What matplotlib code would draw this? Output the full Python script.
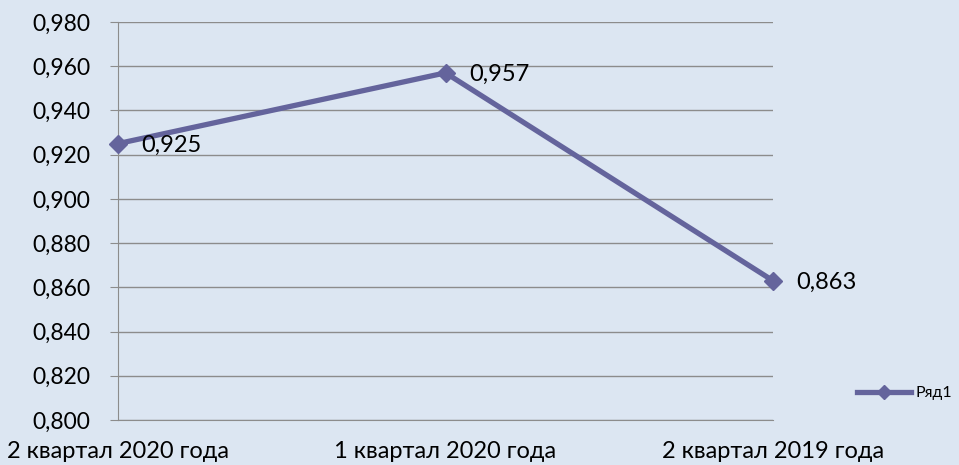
import matplotlib.pyplot as plt
from matplotlib.lines import Line2D

categories = ['2 квартал 2020 года', '1 квартал 2020 года', '2 квартал 2019 года']
values = [0.925, 0.957, 0.863]
yticks = [0.80, 0.82, 0.84, 0.86, 0.88, 0.90, 0.92, 0.94, 0.96, 0.98]

bg = '#dce6f2'
line_col = '#64649c'
grid_col = '#8c8c8c'

plt.rcParams['font.family'] = ['Lato', 'DejaVu Sans']

fig = plt.figure(figsize=(9.59, 4.65), dpi=100, facecolor=bg)
ax = fig.add_axes([118 / 959, 1 - 420 / 465, (773 - 118) / 959, (420 - 22) / 465])
ax.set_facecolor(bg)

x = list(range(len(categories)))
ax.plot(x, values, color=line_col, lw=3.8, marker='D', ms=9, zorder=3, clip_on=False)

for xi, v in zip(x, values):
    ax.annotate(f'{v:.3f}'.replace('.', ','), (xi, v), xytext=(17, -1),
                textcoords='offset points', ha='left', va='center', fontsize=17)

ax.set_xlim(0, 2)
ax.set_ylim(0.80, 0.98)
ax.set_yticks(yticks)
ax.set_yticklabels([f'{t:.3f}'.replace('.', ',') for t in yticks], fontsize=16.5)
ax.set_xticks(x)
ax.set_xticklabels(categories, fontsize=17)
ax.tick_params(axis='x', length=0, pad=15)
ax.tick_params(axis='y', length=6, color=grid_col, pad=14)
ax.grid(axis='y', color=grid_col, lw=1)
ax.set_axisbelow(True)
for s in ['top', 'right']:
    ax.spines[s].set_visible(False)
ax.spines['left'].set_color(grid_col)
ax.spines['bottom'].set_color(grid_col)

handle = Line2D([], [], color=line_col, lw=3.8, marker='D', ms=7)
fig.legend([handle], ['Ряд1'], loc='center left', bbox_to_anchor=(857 / 959, 1 - 393 / 465),
           frameon=False, fontsize=11.5, handlelength=3.4, handletextpad=0.25, borderpad=0,
           borderaxespad=0)

fig.savefig('out.png', dpi=100, facecolor=bg)
